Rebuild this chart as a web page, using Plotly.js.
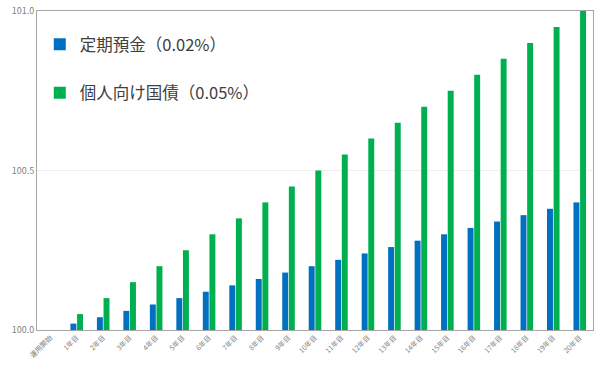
<!DOCTYPE html>
<html><head><meta charset="utf-8">
<script src="https://cdn.plot.ly/plotly-3.0.1.min.js"></script>
<style>html,body{margin:0;padding:0;background:#fff}#c{width:600px;height:366px}</style>
</head><body><div id="c"></div>
<script>
const categories = ["運用開始","1年目","2年目","3年目","4年目","5年目","6年目","7年目","8年目","9年目","10年目","11年目","12年目","13年目","14年目","15年目","16年目","17年目","18年目","19年目","20年目"];
const teikiValues = [100.00,100.02,100.04,100.06,100.08,100.10,100.12,100.14,100.16,100.18,100.20,100.22,100.24,100.26,100.28,100.30,100.32,100.34,100.36,100.38,100.40];
const kokusaiValues = [100.00,100.05,100.10,100.15,100.20,100.25,100.30,100.35,100.40,100.45,100.50,100.55,100.60,100.65,100.70,100.75,100.80,100.85,100.90,100.95,101.00];
const seriesNames = ["定期預金（0.02%）","個人向け国債（0.05%）"];
const yTicks = [100.0,100.5,101.0];
const yTickText = ["100.0","100.5","101.0"];
const baseValue = 100;

const font = '"Noto Sans CJK JP", "Noto Sans", sans-serif';
const data = [
  {type:'bar', x:categories, y:teikiValues.map(v=>v-baseValue), base:baseValue, name:seriesNames[0], marker:{color:'#0070C0'}, legendgroup:'a'},
  {type:'bar', x:categories, y:kokusaiValues.map(v=>v-baseValue), base:baseValue, name:seriesNames[1], marker:{color:'#00B050'}, legendgroup:'b'}
];
const layout = {
  width:600, height:366,
  margin:{l:37, r:7, t:11, b:36},
  paper_bgcolor:'#fff', plot_bgcolor:'#fff',
  font:{family:font, color:'#595959'},
  barmode:'group', bargap:0.5, bargroupgap:0.1,
  showlegend:true,
  legend:{x:0.005, y:0.95, xanchor:'left', yanchor:'top', bgcolor:'rgba(0,0,0,0)',
          font:{size:16.5, color:'#404040', family:font}, tracegroupgap:24, itemwidth:30},
  xaxis:{type:'category', range:[-0.5,20.5], tickangle:-45, tickfont:{size:7, color:'#7f7f7f'},
         showline:true, linecolor:'#a6a6a6', mirror:true, linewidth:1, ticks:'', showgrid:false, fixedrange:true},
  yaxis:{range:[100,101], tickvals:yTicks, ticktext:yTickText, tickfont:{size:9, color:'#7f7f7f'},
         showline:true, linecolor:'#a6a6a6', mirror:true, linewidth:1, showgrid:true, gridcolor:'#eeeeee', zeroline:false, ticks:'', fixedrange:true},
};
Plotly.newPlot('c', data, layout, {displayModeBar:false, staticPlot:true});
</script></body></html>
